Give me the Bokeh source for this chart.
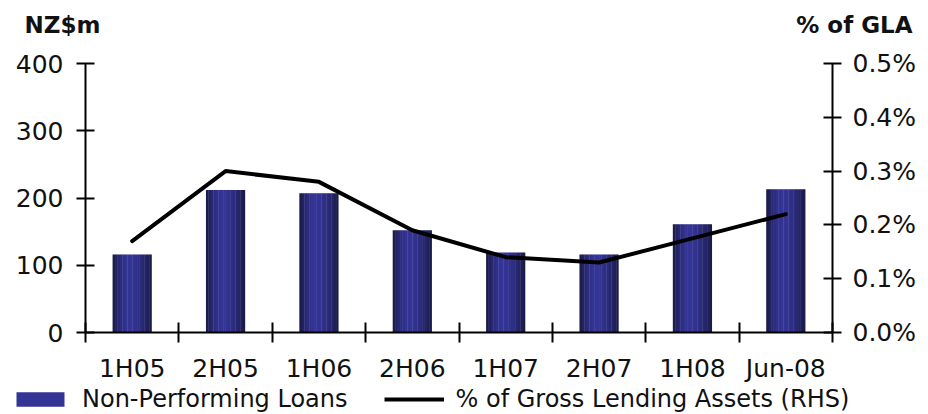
import numpy as np
from bokeh.plotting import figure
from bokeh.models import (Range1d, LinearAxis, FixedTicker, PrintfTickFormatter,
                          Legend, LegendItem, Label, ColumnDataSource)
from bokeh.embed import file_html
from bokeh.resources import INLINE

# ---- data ----
periods = ["1H05", "2H05", "1H06", "2H06", "1H07", "2H07", "1H08", "Jun-08"]
npl = [116, 212, 207, 152, 119, 116, 161, 213]            # NZ$m
pct_gla = [0.17, 0.30, 0.28, 0.19, 0.14, 0.13, 0.175, 0.22]  # % of GLA
left_ticks = [0, 100, 200, 300, 400]
right_ticks = [0.0, 0.1, 0.2, 0.3, 0.4, 0.5]

FONT = "DejaVu Sans"
TXT = "#111111"

W = 928
H_CHART, H_LEG = 374, 28
p = figure(width=W, height=H_CHART, output_backend="svg", toolbar_location=None,
           x_range=Range1d(0, 8), y_range=Range1d(0, 400),
           frame_width=747, frame_height=269,
           min_border_left=85, min_border_right=96, min_border_top=63,
           min_border_bottom=42)
p.extra_y_ranges = {"pct": Range1d(0, 0.5)}
p.xgrid.visible = False
p.ygrid.visible = False
p.outline_line_color = None

# ---- gradient bars (cylinder shading from vertical strips) ----
N = 16
bar_w = 0.42
dark = np.array([24, 24, 66])
light = np.array([52, 52, 150])
centers = [i + 0.5 for i in range(len(periods))]
lefts, rights, tops, cols = [], [], [], []
sw = bar_w / N
for xc, v in zip(centers, npl):
    x0 = xc - bar_w / 2
    for k in range(N):
        t = (k + 0.5) / N
        c = 0.42
        d = (t - c) / c if t < c else (t - c) / (1 - c)
        f = max(0.0, 1 - abs(d) ** 1.8)
        col = dark + (light - dark) * f
        lefts.append(x0 + k * sw)
        rights.append(x0 + (k + 1) * sw + (sw * 0.15 if k < N - 1 else 0))
        tops.append(v)
        cols.append("#%02x%02x%02x" % tuple(int(round(a)) for a in col))
src = ColumnDataSource(dict(left=lefts, right=rights, top=tops,
                            bottom=[0] * len(tops), color=cols))
p.quad(left="left", right="right", top="top", bottom="bottom",
       fill_color="color", line_color=None, source=src)

# ---- line ----
p.line(x=centers, y=pct_gla, y_range_name="pct", line_color="black",
       line_width=4, line_cap="round")

# ---- axes ----
def style_axis(ax):
    ax.axis_line_color = "black"
    ax.axis_line_width = 2
    ax.major_tick_line_color = "black"
    ax.major_tick_line_width = 2
    ax.minor_tick_line_color = "black"
    ax.minor_tick_line_width = 2
    ax.major_label_text_font = FONT
    ax.major_label_text_font_size = "25px"
    ax.major_label_text_color = TXT

ya = p.yaxis[0]
ya.ticker = FixedTicker(ticks=left_ticks)
style_axis(ya)
ya.major_tick_in = 9
ya.major_tick_out = 9
ya.minor_tick_in = 0
ya.minor_tick_out = 0
ya.major_label_standoff = 13

ra = LinearAxis(y_range_name="pct", ticker=FixedTicker(ticks=right_ticks),
                formatter=PrintfTickFormatter(format="%.1f%%"))
style_axis(ra)
ra.major_tick_in = 9
ra.major_tick_out = 9
ra.minor_tick_in = 0
ra.minor_tick_out = 0
ra.major_label_standoff = 11
p.add_layout(ra, "right")

xa = p.xaxis[0]
xa.ticker = FixedTicker(ticks=centers, minor_ticks=list(range(len(periods) + 1)))
xa.major_label_overrides = {c: lab for c, lab in zip(centers, periods)}
style_axis(xa)
xa.major_tick_in = 0
xa.major_tick_out = 0
xa.minor_tick_in = 10
xa.minor_tick_out = 10
xa.major_label_standoff = 11

# ---- axis titles (in the top side panel) ----
p.add_layout(Label(x=-61, y=39, x_units="screen", y_units="screen", text="NZ$m",
                   text_font=FONT, text_font_style="bold", text_font_size="23px",
                   text_color=TXT, text_align="left", text_baseline="alphabetic"), "above")
p.add_layout(Label(x=827, y=13, x_units="screen", y_units="screen", text="% of GLA",
                   text_font=FONT, text_font_style="bold", text_font_size="23px",
                   text_color=TXT, text_align="right", text_baseline="alphabetic"), "above")

# ---- legend strip (separate thin figure so the legend is not clipped) ----
q = figure(width=W, height=H_LEG, output_backend="svg", toolbar_location=None,
           x_axis_type=None, y_axis_type=None,
           x_range=Range1d(100, 101), y_range=Range1d(-2, -1),
           min_border_left=0, min_border_right=0, min_border_top=0, min_border_bottom=0)
q.xgrid.visible = False
q.ygrid.visible = False
q.outline_line_color = None
lb = q.quad(left="left", right="right", top="top", bottom="bottom",
            fill_color="color", line_color=None, source=src)
ll = q.line(x=centers, y=pct_gla, line_color="black", line_width=4)

legend = Legend(items=[LegendItem(label="Non-Performing Loans", renderers=[lb], index=6),
                       LegendItem(label="% of Gross Lending Assets (RHS)", renderers=[ll])],
                location=(10, 0), orientation="horizontal",
                border_line_color=None, background_fill_alpha=0,
                padding=0, margin=0, spacing=36, glyph_width=60, glyph_height=18,
                label_standoff=12, label_text_font=FONT, label_text_font_size="24px",
                label_text_color=TXT)
q.add_layout(legend)

open("out.html", "w").write(file_html([p, q], INLINE))
